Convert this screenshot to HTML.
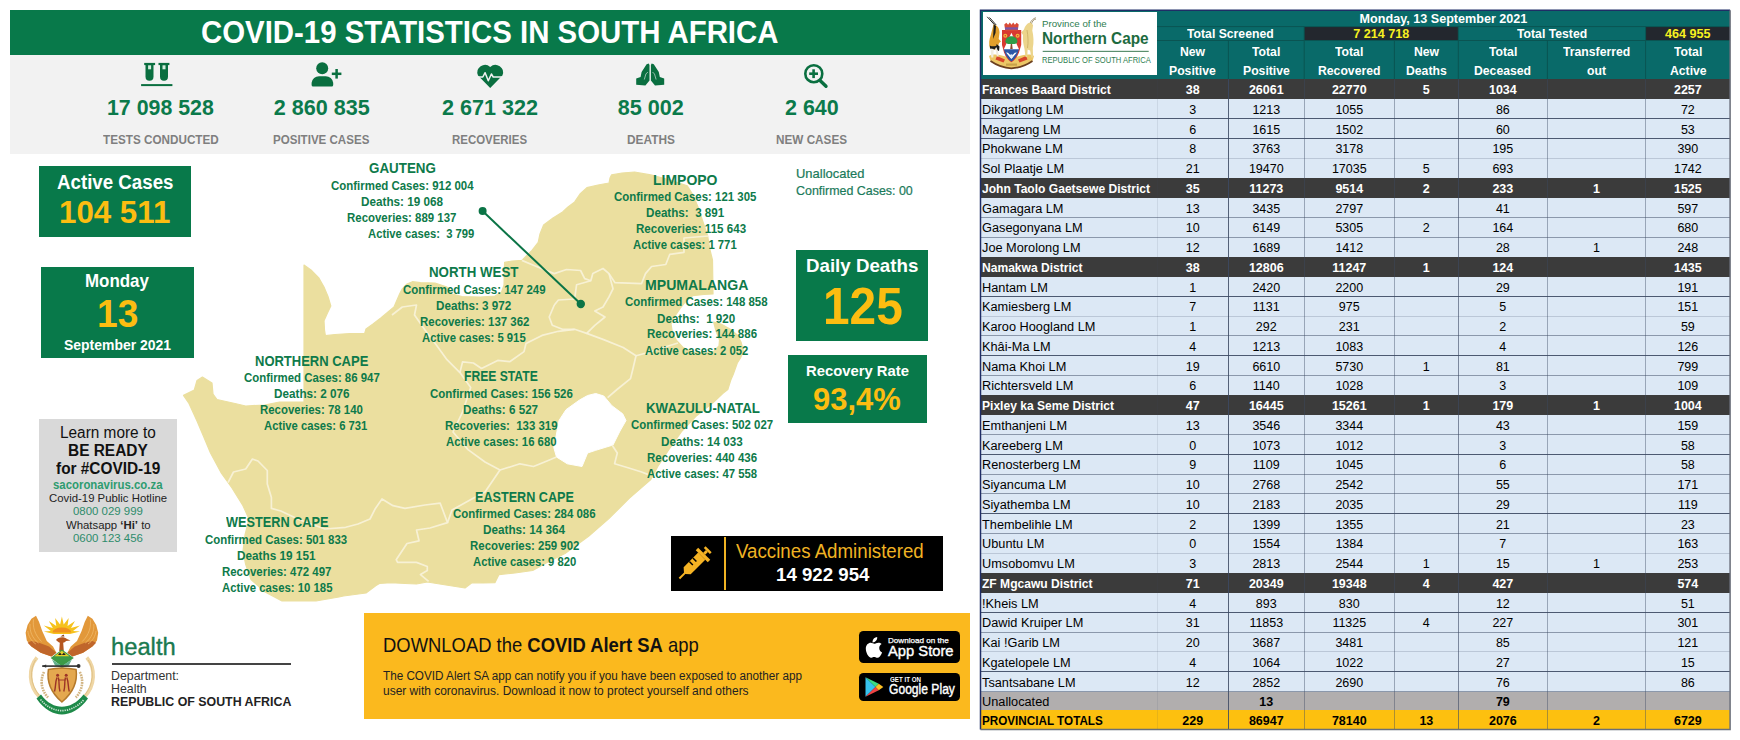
<!DOCTYPE html>
<html><head><meta charset="utf-8"><title>COVID-19 Statistics in South Africa</title>
<style>
html,body{margin:0;padding:0;background:#fff;}
body{width:1740px;height:740px;position:relative;overflow:hidden;font-family:"Liberation Sans",sans-serif;}
.t{position:absolute;white-space:pre;line-height:1;transform-origin:0 0;}
.b{position:absolute;}
svg{position:absolute;left:0;top:0;}
</style></head><body>
<div class="b" style="left:10px;top:10px;width:960.3px;height:45px;background:#08794a;"></div>
<div class="b" style="left:10px;top:55px;width:960.3px;height:98.7px;background:#f2f2f2;"></div>
<div class="b" style="left:38.9px;top:166.2px;width:152.1px;height:71px;background:#08794a;"></div>
<div class="b" style="left:41.2px;top:267.3px;width:152.4px;height:91.2px;background:#08794a;"></div>
<div class="b" style="left:795.8px;top:250.3px;width:132.2px;height:90.3px;background:#08794a;"></div>
<div class="b" style="left:788.4px;top:355.1px;width:138.5px;height:67.6px;background:#08794a;"></div>
<div class="b" style="left:39px;top:419px;width:138.2px;height:133.4px;background:#d9d9d9;"></div>
<div class="b" style="left:671.2px;top:536.2px;width:271.9px;height:54.7px;background:#000;"></div>
<div class="b" style="left:724.4px;top:537.4px;width:1.8px;height:52.3px;background:#f0b323;"></div>
<div class="b" style="left:364px;top:612.7px;width:605.8px;height:106.8px;background:#fbb91e;"></div>
<div class="b" style="left:859.3px;top:630.6px;width:100.7px;height:32.4px;background:#000;border-radius:4.5px;"></div>
<div class="b" style="left:859.3px;top:673.1px;width:100.7px;height:28.3px;background:#000;border-radius:4.5px;"></div>
<div class="b" style="left:111.6px;top:662.8px;width:179.3px;height:2px;background:#444;"></div>
<svg width="980" height="740" viewBox="0 0 980 740">
<path d="M304 265 L311 270 L318.6 277.6 L324 287 L328 296.5 L330.8 306 L327 314 L324 320.8 L324.5 330 L325.4 335.7 L335 334.5 L350 333.5 L364.6 333.6 L366 329 L373 324 L380.8 318 L388 312 L394 307 L397 300 L399.7 293.8 L402.3 288.8 L407 284 L412.4 281.7 L420.5 282.7 L435 283 L447 287 L452 294 L462 296.5 L480 297 L495 296 L501.6 292 L504 285 L504.6 262.4 L512 261 L521.9 260.4 L532 250.3 L538.2 242.4 L540 234 L543.6 224.9 L553 218 L562.6 212 L568 207 L574.7 201.9 L580 194 L586.9 187.7 L598 185 L609 183 L610 178 L611.6 174.9 L622 173 L634.6 172 L650.8 174.9 L670 180 L687.3 185.7 L693 195 L698 207 L703 222 L707.6 235.7 L710 250 L712.5 260 L713 294 L704 294.5 L692.7 295.7 L686 301 L680.5 307.8 L675 316 L671 324 L672.5 333 L676.5 340.3 L683 347.5 L693 352 L705 353 L714 351 L719 346 L719.5 340 L716 331 L713.6 322 L721 324 L730 329 L737.3 335 L741 342 L743.4 351 L740.5 358 L737.3 363 L733.2 374.6 L730.8 380 L727.8 389.5 L722.7 393.5 L714.3 401.6 L695.7 416.5 L682 431 L668.6 450 L657.8 466.5 L650.8 479.5 L629.2 498.4 L608.9 518.6 L588.6 536.2 L565 553.5 L548 562 L532.7 570.5 L515 573 L499 574.6 L494.9 582.7 L483 583 L471.9 582.7 L465 588 L446 585 L427.3 582 L416.5 584 L405 583.5 L390.8 582.7 L379.5 583.5 L376 585.4 L366 593 L343.5 596 L339 597 L316 601 L282 601 L264.6 591.6 L251 579.5 L245.7 564.6 L243 551 L245 535 L249 519 L243 505.7 L232 488 L221.4 473.2 L210.5 453 L203.8 437 L197 421 L189 403.5 L183.5 395.4 L194.3 390 L197 380.5 L202.4 377 L212 383 L213 394 L217 399.5 L235 403.5 L245.7 406 L264.6 405 L279.5 402 L304 402Z" fill="#ebdf9f" stroke="#ebdf9f" stroke-width="1.2" stroke-linejoin="round"/>
<path d="M595.7 393.5 L603.8 396 L611.9 405.7 L622.7 413.8 L626 420.5 L620 431 L613 445 L595.7 450.3 L587.6 453 L582 466.5 L567.3 463.8 L556.5 457 L553.8 447.6 L556.5 434 L559 420.5 L566 409.7 L579.5 400 L587.6 395.5Z" fill="#fff" stroke="#fff" stroke-width="1" stroke-linejoin="round"/>
<path d="M228 482.7 L233.5 472 L245.7 469 L252.4 459 L258 461 L267.3 470.5 L267.3 484 L271.4 497.6 L271.4 508.4 L280.8 511 L300 520 L325 529 L345.7 527.3 L358 524 L370 519 L375.4 508.4 L382 499 L393 505.7 L405 508.4 L425 505 L440.2 503.2 L447.5 522.6 L430 528 L416.5 530 L419 540.8 L407 543.5 L396.2 559.7 L397.6 562.4 L416.5 562.4 L427.3 566.5 L427.3 570.5 L420.5 574.6 L428.6 581.4" fill="none" stroke="#f8f3da" stroke-width="1.7" stroke-linejoin="round" opacity="0.9"/>
<path d="M554.3 305 L558.4 300 L574.6 299 L576.6 284.7 L590.8 280.7 L592.8 273.6 L603 268.5 L609 273.6 L613 288.8 L609 296.9 L603 307 L594.8 311 L605 317 L594.8 325.3 L586.7 333.4 L574.6 329.3 L562.4 329.3 L552.3 325.3 L549.2 317 L554.3 305" fill="none" stroke="#f8f3da" stroke-width="1.7" stroke-linejoin="round" opacity="0.9"/>
<path d="M521.9 260.4 L534 265.5 L554.3 273.6 L566.5 269.5 L580.6 270.5 L584.7 278.6 L590.8 280.7" fill="none" stroke="#f8f3da" stroke-width="1.7" stroke-linejoin="round" opacity="0.9"/>
<path d="M609 273.6 L615 282.7 L641.5 283.7 L645.5 273.6 L651.6 266.5 L665.8 264.5 L669.8 254.3 L684 252.3 L684 238 L708.3 236" fill="none" stroke="#f8f3da" stroke-width="1.7" stroke-linejoin="round" opacity="0.9"/>
<path d="M574.6 329.3 L558.4 331.3 L542 335.4 L526 343.5 L524 351.6 L509.7 361.7 L497.7 360.4 L481.5 368.5 L473.4 363 L462.6 361.8 L459.9 372.6" fill="none" stroke="#f8f3da" stroke-width="1.7" stroke-linejoin="round" opacity="0.9"/>
<path d="M392 315 L402.3 307 L416.5 305 L414.5 315 L425 330 L436.7 345.5 L447 359.7 L459.9 372.6 L470.7 387.4 L462.6 411.8 L453 432 L468 449.6 L485 462 L500 470 L520 463.8 L533.5 466.5 L547 461 L556.5 457" fill="none" stroke="#f8f3da" stroke-width="1.7" stroke-linejoin="round" opacity="0.9"/>
<path d="M586.7 333.4 L603 339.4 L623.2 347.5 L636 355.7 L633.2 367.8 L630.5 378.6 L617 389.5 L607.6 397.6" fill="none" stroke="#f8f3da" stroke-width="1.7" stroke-linejoin="round" opacity="0.9"/>
<path d="M636 355.7 L650 352 L665 347 L678 343" fill="none" stroke="#f8f3da" stroke-width="1.7" stroke-linejoin="round" opacity="0.9"/>
<path d="M612 445 L617.3 453 L614.6 463.8 L628 467.8 L641.6 472 L648.4 474.6" fill="none" stroke="#f8f3da" stroke-width="1.7" stroke-linejoin="round" opacity="0.9"/>
<path d="M447.5 522.6 L452 510 L470 500 L485 492 L500 470" fill="none" stroke="#f8f3da" stroke-width="1.7" stroke-linejoin="round" opacity="0.9"/>
<line x1="482.6" y1="211.1" x2="580.8" y2="304" stroke="#0b7446" stroke-width="2"/>
<circle cx="482.6" cy="211.1" r="4" fill="#0b7446"/><circle cx="580.8" cy="304" r="4.2" fill="#0b7446"/>
</svg>
<svg width="980" height="740" viewBox="0 0 980 740">
<g fill="#0a6f40"><rect x="141.1" y="84.1" width="31.3" height="2"/><rect x="144.2" y="62.9" width="10.9" height="2.2"/><rect x="158.5" y="62.9" width="10.9" height="2.2"/><path d="M145.5 64.5h8v12.300a4 4 0 0 1-8 0z"/><path d="M160 64.5h8v12.300a4 4 0 0 1-8 0z"/></g><rect x="148.1" y="65.3" width="3" height="4" fill="#d5efdf"/><rect x="162.5" y="65.3" width="3" height="4" fill="#d5efdf"/>
<g fill="#0a6f40"><circle cx="322.2" cy="68.3" r="6"/><path d="M311.6 85v-2.200a7.500 7.500 0 0 1 7.500-6.600h6.600a7.500 7.500 0 0 1 7.500 6.600v2.200a1.600 1.600 0 0 1-1.600 1.600h-18.400a1.600 1.600 0 0 1-1.600-1.600z"/><rect x="331.8" y="72.55" width="9.6" height="2.5"/><rect x="335.35" y="69" width="2.5" height="9.6"/></g>
<path fill="#0a6f40" d="M490.200 88L478 75.500A7.600 7.600 0 0 1 490.200 67A7.600 7.600 0 0 1 502.400 75.500Z"/><path d="M477 77h5.800l2.300-4.300 3.200 8 3.100-6.700 1.800 3h10.500" fill="none" stroke="#f2f2f2" stroke-width="1.500" stroke-linejoin="round"/>
<g fill="#0a6f40"><path d="M648.7 63.500L646.600 64.200 641.600 72 640.600 77 636.200 78.600 636.200 84.700 645.400 85.600 649.500 80.500 649.500 65z"/><path d="M651.7 63.500L653.800 64.200 658.800 72 659.800 77 664.200 78.600 664.200 84.700 655 85.600 650.900 80.500 650.900 65z"/></g><path d="M644.300 79.500l1.600-5.500 2-2M656.100 79.500l-1.600-5.500-2-2" stroke="#f2f2f2" stroke-width=".8" fill="none" opacity=".75"/>
<circle cx="813.8" cy="73.7" r="8.500" fill="none" stroke="#0a6f40" stroke-width="2.600"/><path d="M820 80.500l6 5.800" stroke="#0a6f40" stroke-width="3.400" stroke-linecap="round"/><g fill="#0a6f40"><rect x="809.2" y="72.4" width="8.8" height="2.600"/><rect x="812.3" y="69.3" width="2.600" height="8.800"/></g>
<g transform="translate(679.4 578.5) rotate(-45)"><g fill="#f5b324"><rect x="0" y="-1" width="8" height="2"/><path d="M7.500-1L11-5h20.600v10H11L7.500 1z"/><rect x="31.600" y="-8.500" width="3.500" height="17"/><rect x="35" y="-1.400" width="4" height="2.800"/><rect x="38.800" y="-4.300" width="2.500" height="8.600"/></g><g fill="#000"><rect x="18.300" y="-5" width="1.500" height="5"/><rect x="23.300" y="-5" width="1.500" height="5"/></g></g>
</svg>
<div class="b" style="left:980.5px;top:10.2px;width:749.6px;height:68.9px;background:#096a69;"></div>
<div class="b" style="left:982.6px;top:11.8px;width:174.2px;height:63.1px;background:#fff;"></div>
<div class="b" style="left:1304.2px;top:26.7px;width:154.1px;height:14px;background:#23272e;"></div>
<div class="b" style="left:1645.6px;top:26.7px;width:84.5px;height:14px;background:#23272e;"></div>
<div class="b" style="left:980.5px;top:79.1px;width:749.6px;height:19.75px;background:#3b3b3b;"></div>
<div class="b" style="left:980.5px;top:98.85px;width:749.6px;height:19.75px;background:#dce8f5;"></div>
<div class="b" style="left:980.5px;top:118.61px;width:749.6px;height:19.76px;background:#dce8f5;"></div>
<div class="b" style="left:980.5px;top:138.37px;width:749.6px;height:19.75px;background:#dce8f5;"></div>
<div class="b" style="left:980.5px;top:158.12px;width:749.6px;height:19.75px;background:#dce8f5;"></div>
<div class="b" style="left:980.5px;top:177.88px;width:749.6px;height:19.75px;background:#3b3b3b;"></div>
<div class="b" style="left:980.5px;top:197.63px;width:749.6px;height:19.75px;background:#dce8f5;"></div>
<div class="b" style="left:980.5px;top:217.38px;width:749.6px;height:19.75px;background:#dce8f5;"></div>
<div class="b" style="left:980.5px;top:237.14px;width:749.6px;height:19.75px;background:#dce8f5;"></div>
<div class="b" style="left:980.5px;top:256.89px;width:749.6px;height:19.75px;background:#3b3b3b;"></div>
<div class="b" style="left:980.5px;top:276.65px;width:749.6px;height:19.75px;background:#dce8f5;"></div>
<div class="b" style="left:980.5px;top:296.4px;width:749.6px;height:19.75px;background:#dce8f5;"></div>
<div class="b" style="left:980.5px;top:316.16px;width:749.6px;height:19.75px;background:#dce8f5;"></div>
<div class="b" style="left:980.5px;top:335.91px;width:749.6px;height:19.75px;background:#dce8f5;"></div>
<div class="b" style="left:980.5px;top:355.67px;width:749.6px;height:19.75px;background:#dce8f5;"></div>
<div class="b" style="left:980.5px;top:375.42px;width:749.6px;height:19.75px;background:#dce8f5;"></div>
<div class="b" style="left:980.5px;top:395.18px;width:749.6px;height:19.75px;background:#3b3b3b;"></div>
<div class="b" style="left:980.5px;top:414.93px;width:749.6px;height:19.75px;background:#dce8f5;"></div>
<div class="b" style="left:980.5px;top:434.69px;width:749.6px;height:19.75px;background:#dce8f5;"></div>
<div class="b" style="left:980.5px;top:454.44px;width:749.6px;height:19.75px;background:#dce8f5;"></div>
<div class="b" style="left:980.5px;top:474.2px;width:749.6px;height:19.75px;background:#dce8f5;"></div>
<div class="b" style="left:980.5px;top:493.95px;width:749.6px;height:19.75px;background:#dce8f5;"></div>
<div class="b" style="left:980.5px;top:513.71px;width:749.6px;height:19.75px;background:#dce8f5;"></div>
<div class="b" style="left:980.5px;top:533.46px;width:749.6px;height:19.76px;background:#dce8f5;"></div>
<div class="b" style="left:980.5px;top:553.22px;width:749.6px;height:19.75px;background:#dce8f5;"></div>
<div class="b" style="left:980.5px;top:572.98px;width:749.6px;height:19.75px;background:#3b3b3b;"></div>
<div class="b" style="left:980.5px;top:592.73px;width:749.6px;height:19.75px;background:#dce8f5;"></div>
<div class="b" style="left:980.5px;top:612.49px;width:749.6px;height:19.75px;background:#dce8f5;"></div>
<div class="b" style="left:980.5px;top:632.24px;width:749.6px;height:19.75px;background:#dce8f5;"></div>
<div class="b" style="left:980.5px;top:652px;width:749.6px;height:19.75px;background:#dce8f5;"></div>
<div class="b" style="left:980.5px;top:671.75px;width:749.6px;height:19.75px;background:#dce8f5;"></div>
<div class="b" style="left:980.5px;top:691.5px;width:749.6px;height:18.1px;background:#b1aeae;"></div>
<div class="b" style="left:980.5px;top:709.6px;width:749.6px;height:20px;background:#fdc00f;"></div>
<svg width="1740" height="740" viewBox="0 0 1740 740">
<path d="M1157 26.6H1730.1 M1157 40.500H1730.1" stroke="#0a5452" stroke-width="1"/>
<path d="M1228.4 40.5V79.1" stroke="#0a5452" stroke-width="1"/>
<path d="M1304.2 26.6V79.1" stroke="#0a5452" stroke-width="1"/>
<path d="M1394.4 40.5V79.1" stroke="#0a5452" stroke-width="1"/>
<path d="M1458.3 26.6V79.1" stroke="#0a5452" stroke-width="1"/>
<path d="M1547.4 40.5V79.1" stroke="#0a5452" stroke-width="1"/>
<path d="M1645.6 26.6V79.1" stroke="#0a5452" stroke-width="1"/>
<path d="M1157.5 79.1V729.6" stroke="#3d4a63" stroke-width="1" opacity="0.1"/>
<path d="M1228.5 79.1V729.6" stroke="#3d4a63" stroke-width="1" opacity="0.85"/>
<path d="M1304.5 79.1V729.6" stroke="#3d4a63" stroke-width="1" opacity="0.42"/>
<path d="M1394.5 79.1V729.6" stroke="#3d4a63" stroke-width="1" opacity="0.42"/>
<path d="M1458.5 79.1V729.6" stroke="#3d4a63" stroke-width="1" opacity="0.6"/>
<path d="M1547.5 79.1V729.6" stroke="#3d4a63" stroke-width="1" opacity="0.42"/>
<path d="M1645.5 79.1V729.6" stroke="#3d4a63" stroke-width="1" opacity="0.42"/>
<path d="M980.5 118.5H1730.1" stroke="#3d4a63" stroke-width="1" opacity="0.9"/>
<path d="M980.5 138.5H1730.1" stroke="#3d4a63" stroke-width="1" opacity="0.9"/>
<path d="M980.5 158.5H1730.1" stroke="#3d4a63" stroke-width="1" opacity="0.2"/>
<path d="M980.5 217.5H1730.1" stroke="#3d4a63" stroke-width="1" opacity="0.5"/>
<path d="M980.5 237.5H1730.1" stroke="#3d4a63" stroke-width="1" opacity="0.5"/>
<path d="M980.5 296.5H1730.1" stroke="#3d4a63" stroke-width="1" opacity="0.9"/>
<path d="M980.5 316.5H1730.1" stroke="#3d4a63" stroke-width="1" opacity="0.2"/>
<path d="M980.5 335.5H1730.1" stroke="#3d4a63" stroke-width="1" opacity="0.5"/>
<path d="M980.5 355.5H1730.1" stroke="#3d4a63" stroke-width="1" opacity="0.9"/>
<path d="M980.5 375.5H1730.1" stroke="#3d4a63" stroke-width="1" opacity="0.5"/>
<path d="M980.5 434.5H1730.1" stroke="#3d4a63" stroke-width="1" opacity="0.5"/>
<path d="M980.5 454.5H1730.1" stroke="#3d4a63" stroke-width="1" opacity="0.9"/>
<path d="M980.5 474.5H1730.1" stroke="#3d4a63" stroke-width="1" opacity="0.5"/>
<path d="M980.5 493.5H1730.1" stroke="#3d4a63" stroke-width="1" opacity="0.5"/>
<path d="M980.5 513.5H1730.1" stroke="#3d4a63" stroke-width="1" opacity="0.9"/>
<path d="M980.5 533.5H1730.1" stroke="#3d4a63" stroke-width="1" opacity="0.5"/>
<path d="M980.5 553.5H1730.1" stroke="#3d4a63" stroke-width="1" opacity="0.2"/>
<path d="M980.5 612.5H1730.1" stroke="#3d4a63" stroke-width="1" opacity="0.9"/>
<path d="M980.5 632.5H1730.1" stroke="#3d4a63" stroke-width="1" opacity="0.5"/>
<path d="M980.5 651.5H1730.1" stroke="#3d4a63" stroke-width="1" opacity="0.2"/>
<path d="M980.5 671.5H1730.1" stroke="#3d4a63" stroke-width="1" opacity="0.9"/>
<path d="M980.5 691.5H1730.1" stroke="#3d4a63" stroke-width="1" opacity="0.5"/>
<path d="M980.5 729.600V10.200H1730.1" fill="none" stroke="#1f2d66" stroke-width="1.500"/>
<path d="M1730.1 10.200V729.600H980.5" fill="none" stroke="#6a6f7a" stroke-width="1.500"/>
</svg>
<svg width="1740" height="740" viewBox="0 0 1740 740">
<rect x="1042.7" y="50.800" width="106" height="1.200" fill="#5b8f6e"/>
<g><path d="M989 56C994 52.500 1003 55.500 1011.400 58.500C1020 55.500 1029 52.500 1034 56L1032.500 61C1026 65.500 1018 68 1011.400 68.300C1005 68 997 65.500 990.500 61Z" fill="#ecc766"/><path d="M990.500 61C997 65.500 1005 68 1011.400 68.300C1018 68 1026 65.500 1032.500 61" stroke="#6b3f1f" stroke-width="1.700" fill="none"/><path d="M997 56l8 3.500-1.500 3-8-3z M1026 56l-8 3.500 1.500 3 8-3z" fill="#d8452b"/><path d="M1006 63.500h11v2.200h-11z" fill="#c9a24a"/><path d="M995.200 25.500L987.200 16.800M996.200 25L989.500 17.500" stroke="#2a2a2a" stroke-width="1" fill="none"/><path d="M993.500 24.500c3.500.3 6 3.500 6 8l-.8 6.500 2.300 2.500-2 1.500-1.500 5.500-3.500 1.500-4-1.500c-1.500-5-.8-9 .8-13.500z" fill="#e3a02c"/><path d="M993.800 24.500l2.200 1.500-.5 7-2.500 6z" fill="#1c1c1c"/><path d="M989.800 45.500c2.500 1.300 5.800 1.200 8-.8l-.8 3.600c-2 1.400-4.800 1.500-6.800.4z" fill="#1c1c1c"/><path d="M990.500 48.500l.8 9h2l.4-8.500z M995.300 48l1.600 8.500h1.800l-1.300-9.500z" fill="#f1ece0"/><path d="M996.500 44l3 2.500-.5 4.500c-1.500-.5-2.500-2-2.500-7z" fill="#1c1c1c"/><path d="M1030 23.500c1-3 3.500-5 5.800-5.800M1031.500 24c.5-2.500 2-4.500 4.500-5" stroke="#9a8a66" stroke-width=".9" fill="none"/><path d="M1030.500 22.500c-3.500.5-5.500 3.500-6.500 7l-2.800 3 1.800 2.500c-.5 5 .5 10 1.500 14l1 8h1.800l.3-7.500 2.500 1 1.200 7h1.800l-.3-9.500c1.200-5.500.8-12-.5-17.500l.8-5.500z" fill="#ecd58c"/><path d="M1027 30c1 6 1.500 12 .5 18" stroke="#c9ad62" stroke-width=".8" fill="none"/><path d="M1002 30h19.200v15l-2.200 7.500c-2 5-4.500 8-7.600 9.700c-3-1.700-5.500-4.700-7.400-9.700l-2-7.500z" fill="#d93a31"/><path d="M1003.800 49l1 3.500c1.700 4.500 3.900 7.300 6.600 8.900c2.700-1.600 4.900-4.400 6.600-8.900l1-3.500z" fill="#2b57a6"/><path d="M1011.400 32.700l7.600 16.500h-15.200z" fill="#fff"/><path d="M1011.400 36.300c3.500 0 6 2.500 6 5.200 0 1.500-1.500 2.500-3 2.500h-6c-1.500 0-3-1-3-2.500 0-2.700 2.500-5.200 6-5.200z" fill="#2f9d48"/><path d="M1010.800 44h1.300l.6 5h-2.500z" fill="#8a4a2a"/><path d="M1006 52.500l5.400 6.500 5.400-6.500-2 .3-3.400 3.500-3.400-3.500z" fill="#fff"/><circle cx="1011.400" cy="56" r="1.700" fill="#dfe9f7"/><circle cx="1005.300" cy="35.700" r="2" fill="#f0b93a"/><circle cx="1017.600" cy="35.700" r="2" fill="#f0b93a"/><circle cx="1005.300" cy="35.700" r=".8" fill="#d93a31"/><circle cx="1017.600" cy="35.700" r=".8" fill="#d93a31"/><path d="M1004.300 24.500l2-1.800 1.800 2 1.700-2.200 1.700 2.200 1.700-2.200 1.700 2.200 1.800-2 2 1.800-1 6.400h-12.400z" fill="#d94a36"/><rect x="1005" y="27.300" width="13" height="2.300" fill="#7a55a8"/></g>
<g><path d="M36 615.700L31.400 618.800 27.600 624.900 25.600 632.700 26.800 640.400 31.400 646.500 40.700 652.700 51.400 656.500 56.400 652.700 53 646.500 46.800 641.100 42.200 631.100 39.100 621.900Z" fill="#e2983a"/><path d="M27.600 642.700L31.400 646.500 40.700 652.700 51.400 656.500 56.400 652.700 49.100 646.500 39.100 642.700 31.400 641.100Z" fill="#c0662b"/><path d="M33.500 619.500c-1 7 1 15 8 22M30 624c-.5 7 2 14 8.500 19M27.800 631c.5 5 3.500 10 8 13" stroke="#f0b968" stroke-width=".8" fill="none"/><path d="M37 657.500C28 668 28 686 40 697.500" stroke="#efd6a4" stroke-width="3.600" fill="none"/><path d="M35.500 660C29.500 670 30 684 39 695" stroke="#d9b778" stroke-width=".7" fill="none"/><path d="M44 672C40 680 41 690 48 697.500" stroke="#d2b583" stroke-width="2.600" stroke-dasharray="1.700 .9" fill="none"/><g transform="translate(123.800 0) scale(-1 1)"><path d="M36 615.700L31.400 618.800 27.600 624.900 25.600 632.700 26.800 640.400 31.400 646.500 40.700 652.700 51.400 656.500 56.400 652.700 53 646.500 46.800 641.100 42.200 631.100 39.100 621.900Z" fill="#e2983a"/><path d="M27.600 642.700L31.400 646.500 40.700 652.700 51.400 656.500 56.400 652.700 49.100 646.500 39.100 642.700 31.400 641.100Z" fill="#c0662b"/><path d="M33.500 619.500c-1 7 1 15 8 22M30 624c-.5 7 2 14 8.500 19M27.800 631c.5 5 3.500 10 8 13" stroke="#f0b968" stroke-width=".8" fill="none"/><path d="M37 657.500C28 668 28 686 40 697.500" stroke="#efd6a4" stroke-width="3.600" fill="none"/><path d="M35.500 660C29.500 670 30 684 39 695" stroke="#d9b778" stroke-width=".7" fill="none"/><path d="M44 672C40 680 41 690 48 697.500" stroke="#d2b583" stroke-width="2.600" stroke-dasharray="1.700 .9" fill="none"/></g><path d="M61.900 616.500l1.800 8 5-6.500-1.200 8 7.500-5-4 7 9-2.500-7 5.500 7 .5-10 2.500h-16.200l-10-2.500 7-.5-7-5.500 9 2.500-4-7 7.500 5-1.200-8 5 6.500z" fill="#f6c21c"/><path d="M52.500 632.500a9.400 5 0 0 1 18.800 0z" fill="#f0901f"/><path d="M56 640c2-3 8-3.600 11-1l3.500 1.400-4.500.6c-.8 1-1.800 1.500-2.800 1.700l.6 8.300h-4.600l.6-8.300c-1.500-.5-2.700-1.500-3.800-2.700z" fill="#b5561f"/><path d="M60.500 636.500l3-2 1 2z" fill="#8a3a16"/><path d="M61.900 649.600L73.800 658 61.900 666.600 50.700 658Z" fill="#3c9a47"/><path d="M61.900 650.800L69.500 656.300H54.300Z" fill="#e6cf2a"/><path d="M58 655l2-2.500 1.900 2.500 1.900-2.500 2 2.500z" fill="#222"/><path d="M52 659.500l9.900 6.500 9.900-6.500-3 6-6.900 2.500-6.900-2.500z" fill="#62b08c"/><rect x="42.200" y="665.300" width="36" height="1.600" fill="#2f2f2f"/><circle cx="78.600" cy="666" r="1.900" fill="#2f2f2f"/><path d="M42.200 666.100l4-1.600v3.200z" fill="#2f2f2f"/><path d="M48.400 669.500Q61.900 666.300 76.100 669.500Q78.600 688 61.900 702Q45.600 688 48.400 669.500Z" fill="#e4a84f" stroke="#b57a2c" stroke-width="1.500"/><path d="M57 677.500c-2 5-1 9-2.500 14M58.300 677.500c1.500 5 0 9 1.700 14M66.800 677.500c2 5 1 9 2.500 14M65.500 677.500c-1.500 5 0 9-1.700 14" stroke="#9c3327" stroke-width="1.400" fill="none"/><circle cx="57.600" cy="675.300" r="1.500" fill="#9c3327"/><circle cx="66.200" cy="675.300" r="1.500" fill="#9c3327"/><path d="M58.500 680h7" stroke="#9c3327" stroke-width=".9"/><path d="M36.500 698.500C44 710 54 714.500 61.900 714.500C70 714.500 80 710 88 698.500L83.500 694.500C77 703 69 706.800 61.900 706.800C55 706.800 47 703 41 694.500Z" fill="#1e8a49"/><path d="M40.500 699.500C47 707.500 55 710.600 61.900 710.600C69 710.600 77 707.500 84 699.500" stroke="#e6f2e9" stroke-width="1.700" stroke-dasharray="1.300 1" fill="none" opacity=".85"/></g>
<g transform="translate(866.600 636.900) scale(.98)" fill="#fff"><path d="M10.800 0c.2 1.700-.5 3.100-1.300 4-.9 1-2.200 1.700-3.400 1.600-.2-1.500.5-3 1.300-3.900C8.300.7 9.700.1 10.800 0z"/><path d="M15.300 7.300c-1.500.9-2.400 2.300-2.400 4.100 0 2.100 1.200 3.700 2.900 4.400-.7 2.200-2.700 5.400-4.700 5.400-1.300 0-2-.8-3.400-.8-1.500 0-2.300.8-3.500.8C2.100 21.200-.8 16.400-.8 12.200c0-3.900 2.500-6.200 5.100-6.200 1.500 0 2.700 1 3.600 1 .9 0 2.400-1.100 4.100-1.100 1.300 0 2.600.5 3.300 1.400z"/></g>
<path d="M865.500 677.200v19.600l10-9.800z" fill="#36c3ee"/><path d="M865.500 677.200l10 9.800 3.300-3.200z" fill="#3ddc84"/><path d="M865.500 696.800l10-9.800 3.300 3.200z" fill="#ef4444"/><path d="M878.800 683.800l4.500 3.200-4.500 3.200-3.300-3.200z" fill="#fbbf24"/>
</svg>
<span class="t" style="left:201.46px;top:16.98px;font-size:30.5px;color:#fff;font-weight:700;transform:scaleX(0.9636);">COVID-19 STATISTICS IN SOUTH AFRICA</span>
<span class="t" style="left:107.43px;top:97.01px;font-size:21.6px;color:#0b7a4b;font-weight:700;transform:scaleX(0.9886);">17 098 528</span>
<span class="t" style="left:273.63px;top:97.01px;font-size:21.6px;color:#0b7a4b;font-weight:700;">2 860 835</span>
<span class="t" style="left:442.03px;top:97.01px;font-size:21.6px;color:#0b7a4b;font-weight:700;">2 671 322</span>
<span class="t" style="left:617.73px;top:97.01px;font-size:21.6px;color:#0b7a4b;font-weight:700;">85 002</span>
<span class="t" style="left:785.13px;top:97.01px;font-size:21.6px;color:#0b7a4b;font-weight:700;transform:scaleX(0.9945);">2 640</span>
<span class="t" style="left:102.87px;top:132.99px;font-size:13px;color:#7f7f7f;font-weight:700;transform:scaleX(0.9004);">TESTS CONDUCTED</span>
<span class="t" style="left:273.47px;top:132.99px;font-size:13px;color:#7f7f7f;font-weight:700;transform:scaleX(0.8891);">POSITIVE CASES</span>
<span class="t" style="left:452.47px;top:132.99px;font-size:13px;color:#7f7f7f;font-weight:700;transform:scaleX(0.8804);">RECOVERIES</span>
<span class="t" style="left:626.87px;top:132.99px;font-size:13px;color:#7f7f7f;font-weight:700;transform:scaleX(0.9137);">DEATHS</span>
<span class="t" style="left:776.47px;top:132.99px;font-size:13px;color:#7f7f7f;font-weight:700;transform:scaleX(0.9024);">NEW CASES</span>
<span class="t" style="left:56.71px;top:172.89px;font-size:19.5px;color:#fff;font-weight:700;transform:scaleX(0.9593);">Active Cases</span>
<span class="t" style="left:58.94px;top:197.35px;font-size:31px;color:#fcbd11;font-weight:700;transform:scaleX(1.0086);">104 511</span>
<span class="t" style="left:85.48px;top:273.43px;font-size:17.8px;color:#fff;font-weight:700;transform:scaleX(0.9517);">Monday</span>
<span class="t" style="left:97.16px;top:295.13px;font-size:38px;color:#fcbd11;font-weight:700;transform:scaleX(0.9763);">13</span>
<span class="t" style="left:63.61px;top:337.64px;font-size:14.6px;color:#fff;font-weight:700;transform:scaleX(0.9556);">September 2021</span>
<span class="t" style="left:805.85px;top:256.84px;font-size:18.5px;color:#fff;font-weight:700;transform:scaleX(1.0113);">Daily Deaths</span>
<span class="t" style="left:822.81px;top:280.59px;font-size:51.5px;color:#fcbd11;font-weight:700;transform:scaleX(0.9283);">125</span>
<span class="t" style="left:806.01px;top:364.04px;font-size:14.6px;color:#fff;font-weight:700;transform:scaleX(1.0155);">Recovery Rate</span>
<span class="t" style="left:813.4px;top:383.11px;font-size:32px;color:#fcbd11;font-weight:700;transform:scaleX(0.9676);">93,4%</span>
<span class="t" style="left:736.41px;top:542.27px;font-size:19.4px;color:#f0b323;transform:scaleX(0.9642);">Vaccines Administered</span>
<span class="t" style="left:776.45px;top:565.72px;font-size:18.4px;color:#fff;font-weight:700;transform:scaleX(1.0146);">14 922 954</span>
<span class="t" style="left:59.97px;top:424.79px;font-size:15.6px;color:#111;transform:scaleX(0.9863);">Learn more to</span>
<span class="t" style="left:67.97px;top:442.59px;font-size:15.6px;color:#111;font-weight:700;transform:scaleX(0.9897);">BE READY</span>
<span class="t" style="left:55.67px;top:461.09px;font-size:15.6px;color:#111;font-weight:700;transform:scaleX(0.9872);">for #COVID-19</span>
<span class="t" style="left:53.01px;top:479.34px;font-size:12px;color:#2e9c70;font-weight:700;transform:scaleX(0.9487);">sacoronavirus.co.za</span>
<span class="t" style="left:48.72px;top:492.91px;font-size:11.8px;color:#222;transform:scaleX(0.9627);">Covid-19 Public Hotline</span>
<span class="t" style="left:73.12px;top:506.31px;font-size:11.8px;color:#2e8c6c;transform:scaleX(0.9693);">0800 029 999</span>
<span class="t" style="left:65.52px;top:519.91px;font-size:11.8px;color:#222;transform:scaleX(0.9632);">Whatsapp <b>‘Hi’</b> to</span>
<span class="t" style="left:73.12px;top:533.31px;font-size:11.8px;color:#2e8c6c;transform:scaleX(0.9693);">0600 123 456</span>
<span class="t" style="left:110.65px;top:636.4px;font-size:23.5px;color:#1a7a50;transform:scaleX(1.0105);-webkit-text-stroke:.35px #1a7a50;">health</span>
<span class="t" style="left:111.07px;top:668.59px;font-size:13px;color:#333;transform:scaleX(0.9512);">Department:</span>
<span class="t" style="left:111.07px;top:682.09px;font-size:13px;color:#333;transform:scaleX(0.9514);">Health</span>
<span class="t" style="left:111.09px;top:695.92px;font-size:12.5px;color:#222;font-weight:700;transform:scaleX(0.9898);">REPUBLIC OF SOUTH AFRICA</span>
<span class="t" style="left:383.16px;top:635.49px;font-size:20.8px;color:#111;transform:scaleX(0.8859);">DOWNLOAD the <b>COVID Alert SA</b> app</span>
<span class="t" style="left:383.49px;top:670.02px;font-size:12.5px;color:#222;transform:scaleX(0.9363);">The COVID Alert SA app can notify you if you have been exposed to another app</span>
<span class="t" style="left:383.49px;top:685.02px;font-size:12.5px;color:#222;transform:scaleX(0.9567);">user with coronavirus. Download it now to protect yourself and others</span>
<span class="t" style="left:888.28px;top:637.03px;font-size:8px;color:#fff;transform:scaleX(1.0117);-webkit-text-stroke:.25px #fff;">Download on the</span>
<span class="t" style="left:887.98px;top:643.46px;font-size:15.4px;color:#fff;transform:scaleX(0.9576);-webkit-text-stroke:.4px #fff;">App Store</span>
<span class="t" style="left:889.54px;top:677.18px;font-size:6.4px;color:#fff;font-weight:700;transform:scaleX(0.9671);">GET IT ON</span>
<span class="t" style="left:888.64px;top:683.42px;font-size:13.8px;color:#fff;transform:scaleX(0.8769);-webkit-text-stroke:.4px #fff;">Google Play</span>
<span class="t" style="left:795.51px;top:168.47px;font-size:12.2px;color:#1a7a5a;transform:scaleX(1.0639);-webkit-text-stroke:.2px #1a7a5a;">Unallocated</span>
<span class="t" style="left:795.51px;top:185.17px;font-size:12.2px;color:#1a7a5a;transform:scaleX(1.0201);-webkit-text-stroke:.2px #1a7a5a;">Confirmed Cases: 00</span>
<span class="t" style="left:368.62px;top:161.28px;font-size:14.2px;color:#0e7a4a;font-weight:700;transform:scaleX(0.9424);">GAUTENG</span>
<span class="t" style="left:330.61px;top:179.85px;font-size:12.1px;color:#0e7a4a;font-weight:700;transform:scaleX(0.9469);">Confirmed Cases: 912 004</span>
<span class="t" style="left:361.01px;top:195.75px;font-size:12.1px;color:#0e7a4a;font-weight:700;transform:scaleX(0.9689);">Deaths: 19 068</span>
<span class="t" style="left:347.11px;top:211.75px;font-size:12.1px;color:#0e7a4a;font-weight:700;transform:scaleX(0.9466);">Recoveries: 889 137</span>
<span class="t" style="left:368.41px;top:227.95px;font-size:12.1px;color:#0e7a4a;font-weight:700;transform:scaleX(0.9306);">Active cases:  3 799</span>
<span class="t" style="left:652.92px;top:172.88px;font-size:14.2px;color:#0e7a4a;font-weight:700;transform:scaleX(0.9849);">LIMPOPO</span>
<span class="t" style="left:614.11px;top:190.85px;font-size:12.1px;color:#0e7a4a;font-weight:700;transform:scaleX(0.9456);">Confirmed Cases: 121 305</span>
<span class="t" style="left:646.01px;top:207.15px;font-size:12.1px;color:#0e7a4a;font-weight:700;transform:scaleX(0.9623);">Deaths:  3 891</span>
<span class="t" style="left:636.11px;top:223.05px;font-size:12.1px;color:#0e7a4a;font-weight:700;transform:scaleX(0.9573);">Recoveries: 115 643</span>
<span class="t" style="left:633.41px;top:238.85px;font-size:12.1px;color:#0e7a4a;font-weight:700;transform:scaleX(0.9344);">Active cases: 1 771</span>
<span class="t" style="left:429.32px;top:265.38px;font-size:14.2px;color:#0e7a4a;font-weight:700;transform:scaleX(0.9379);">NORTH WEST</span>
<span class="t" style="left:402.91px;top:283.85px;font-size:12.1px;color:#0e7a4a;font-weight:700;transform:scaleX(0.9469);">Confirmed Cases: 147 249</span>
<span class="t" style="left:436.41px;top:299.85px;font-size:12.1px;color:#0e7a4a;font-weight:700;transform:scaleX(0.9653);">Deaths: 3 972</span>
<span class="t" style="left:419.51px;top:315.75px;font-size:12.1px;color:#0e7a4a;font-weight:700;transform:scaleX(0.9466);">Recoveries: 137 362</span>
<span class="t" style="left:422.21px;top:331.55px;font-size:12.1px;color:#0e7a4a;font-weight:700;transform:scaleX(0.9344);">Active cases: 5 915</span>
<span class="t" style="left:644.52px;top:278.48px;font-size:14.2px;color:#0e7a4a;font-weight:700;transform:scaleX(0.9944);">MPUMALANGA</span>
<span class="t" style="left:624.91px;top:296.45px;font-size:12.1px;color:#0e7a4a;font-weight:700;transform:scaleX(0.9469);">Confirmed Cases: 148 858</span>
<span class="t" style="left:657.11px;top:312.65px;font-size:12.1px;color:#0e7a4a;font-weight:700;transform:scaleX(0.9623);">Deaths:  1 920</span>
<span class="t" style="left:647.31px;top:328.45px;font-size:12.1px;color:#0e7a4a;font-weight:700;transform:scaleX(0.9518);">Recoveries: 144 886</span>
<span class="t" style="left:644.61px;top:344.65px;font-size:12.1px;color:#0e7a4a;font-weight:700;transform:scaleX(0.9308);">Active cases: 2 052</span>
<span class="t" style="left:254.82px;top:353.58px;font-size:14.2px;color:#0e7a4a;font-weight:700;transform:scaleX(0.9158);">NORTHERN CAPE</span>
<span class="t" style="left:243.51px;top:371.95px;font-size:12.1px;color:#0e7a4a;font-weight:700;transform:scaleX(0.9439);">Confirmed Cases: 86 947</span>
<span class="t" style="left:273.51px;top:387.75px;font-size:12.1px;color:#0e7a4a;font-weight:700;transform:scaleX(0.9692);">Deaths: 2 076</span>
<span class="t" style="left:259.81px;top:403.95px;font-size:12.1px;color:#0e7a4a;font-weight:700;transform:scaleX(0.9445);">Recoveries: 78 140</span>
<span class="t" style="left:264.11px;top:419.85px;font-size:12.1px;color:#0e7a4a;font-weight:700;transform:scaleX(0.9317);">Active cases: 6 731</span>
<span class="t" style="left:464.02px;top:369.28px;font-size:14.2px;color:#0e7a4a;font-weight:700;transform:scaleX(0.8557);">FREE STATE</span>
<span class="t" style="left:429.61px;top:387.95px;font-size:12.1px;color:#0e7a4a;font-weight:700;transform:scaleX(0.9489);">Confirmed Cases: 156 526</span>
<span class="t" style="left:463.41px;top:403.75px;font-size:12.1px;color:#0e7a4a;font-weight:700;transform:scaleX(0.9628);">Deaths: 6 527</span>
<span class="t" style="left:444.81px;top:419.65px;font-size:12.1px;color:#0e7a4a;font-weight:700;transform:scaleX(0.9459);">Recoveries:  133 319</span>
<span class="t" style="left:445.91px;top:435.65px;font-size:12.1px;color:#0e7a4a;font-weight:700;transform:scaleX(0.9397);">Active cases: 16 680</span>
<span class="t" style="left:645.52px;top:401.28px;font-size:14.2px;color:#0e7a4a;font-weight:700;transform:scaleX(0.9369);">KWAZULU-NATAL</span>
<span class="t" style="left:631.41px;top:419.25px;font-size:12.1px;color:#0e7a4a;font-weight:700;transform:scaleX(0.9442);">Confirmed Cases: 502 027</span>
<span class="t" style="left:661.41px;top:435.85px;font-size:12.1px;color:#0e7a4a;font-weight:700;transform:scaleX(0.9653);">Deaths: 14 033</span>
<span class="t" style="left:647.21px;top:451.85px;font-size:12.1px;color:#0e7a4a;font-weight:700;transform:scaleX(0.9527);">Recoveries: 440 436</span>
<span class="t" style="left:647.21px;top:467.65px;font-size:12.1px;color:#0e7a4a;font-weight:700;transform:scaleX(0.9363);">Active cases: 47 558</span>
<span class="t" style="left:475.22px;top:489.98px;font-size:14.2px;color:#0e7a4a;font-weight:700;transform:scaleX(0.8893);">EASTERN CAPE</span>
<span class="t" style="left:453.31px;top:508.35px;font-size:12.1px;color:#0e7a4a;font-weight:700;transform:scaleX(0.9469);">Confirmed Cases: 284 086</span>
<span class="t" style="left:483.41px;top:524.15px;font-size:12.1px;color:#0e7a4a;font-weight:700;transform:scaleX(0.9689);">Deaths: 14 364</span>
<span class="t" style="left:469.91px;top:540.35px;font-size:12.1px;color:#0e7a4a;font-weight:700;transform:scaleX(0.9466);">Recoveries: 259 902</span>
<span class="t" style="left:473.01px;top:556.35px;font-size:12.1px;color:#0e7a4a;font-weight:700;transform:scaleX(0.9308);">Active cases: 9 820</span>
<span class="t" style="left:225.52px;top:515.18px;font-size:14.2px;color:#0e7a4a;font-weight:700;transform:scaleX(0.8964);">WESTERN CAPE</span>
<span class="t" style="left:205.31px;top:533.95px;font-size:12.1px;color:#0e7a4a;font-weight:700;transform:scaleX(0.9442);">Confirmed Cases: 501 833</span>
<span class="t" style="left:237.31px;top:550.25px;font-size:12.1px;color:#0e7a4a;font-weight:700;transform:scaleX(0.9726);">Deaths 19 151</span>
<span class="t" style="left:221.91px;top:566.05px;font-size:12.1px;color:#0e7a4a;font-weight:700;transform:scaleX(0.9457);">Recoveries: 472 497</span>
<span class="t" style="left:221.51px;top:581.95px;font-size:12.1px;color:#0e7a4a;font-weight:700;transform:scaleX(0.9389);">Active cases: 10 185</span>
<span class="t" style="left:982.4px;top:83.99px;font-size:12.5px;color:#fff;font-weight:700;transform:scaleX(0.9650);">Frances Baard District</span>
<span class="t" style="left:1185.75px;top:83.99px;font-size:12.5px;color:#fff;font-weight:700;">38</span>
<span class="t" style="left:1248.92px;top:83.99px;font-size:12.5px;color:#fff;font-weight:700;">26061</span>
<span class="t" style="left:1331.92px;top:83.99px;font-size:12.5px;color:#fff;font-weight:700;">22770</span>
<span class="t" style="left:1422.87px;top:83.99px;font-size:12.5px;color:#fff;font-weight:700;">5</span>
<span class="t" style="left:1488.94px;top:83.99px;font-size:12.5px;color:#fff;font-weight:700;">1034</span>
<span class="t" style="left:1673.94px;top:83.99px;font-size:12.5px;color:#fff;font-weight:700;">2257</span>
<span class="t" style="left:982.4px;top:103.75px;font-size:12.5px;color:#000;transform:scaleX(1.0200);">Dikgatlong LM</span>
<span class="t" style="left:1189.22px;top:103.75px;font-size:12.5px;color:#000;">3</span>
<span class="t" style="left:1252.39px;top:103.75px;font-size:12.5px;color:#000;">1213</span>
<span class="t" style="left:1335.39px;top:103.75px;font-size:12.5px;color:#000;">1055</span>
<span class="t" style="left:1495.9px;top:103.75px;font-size:12.5px;color:#000;">86</span>
<span class="t" style="left:1680.9px;top:103.75px;font-size:12.5px;color:#000;">72</span>
<span class="t" style="left:982.4px;top:123.5px;font-size:12.5px;color:#000;transform:scaleX(1.0200);">Magareng LM</span>
<span class="t" style="left:1189.22px;top:123.5px;font-size:12.5px;color:#000;">6</span>
<span class="t" style="left:1252.39px;top:123.5px;font-size:12.5px;color:#000;">1615</span>
<span class="t" style="left:1335.39px;top:123.5px;font-size:12.5px;color:#000;">1502</span>
<span class="t" style="left:1495.9px;top:123.5px;font-size:12.5px;color:#000;">60</span>
<span class="t" style="left:1680.9px;top:123.5px;font-size:12.5px;color:#000;">53</span>
<span class="t" style="left:982.4px;top:143.26px;font-size:12.5px;color:#000;transform:scaleX(1.0200);">Phokwane LM</span>
<span class="t" style="left:1189.22px;top:143.26px;font-size:12.5px;color:#000;">8</span>
<span class="t" style="left:1252.39px;top:143.26px;font-size:12.5px;color:#000;">3763</span>
<span class="t" style="left:1335.39px;top:143.26px;font-size:12.5px;color:#000;">3178</span>
<span class="t" style="left:1492.42px;top:143.26px;font-size:12.5px;color:#000;">195</span>
<span class="t" style="left:1677.42px;top:143.26px;font-size:12.5px;color:#000;">390</span>
<span class="t" style="left:982.4px;top:163.01px;font-size:12.5px;color:#000;transform:scaleX(1.0200);">Sol Plaatje LM</span>
<span class="t" style="left:1185.75px;top:163.01px;font-size:12.5px;color:#000;">21</span>
<span class="t" style="left:1248.92px;top:163.01px;font-size:12.5px;color:#000;">19470</span>
<span class="t" style="left:1331.92px;top:163.01px;font-size:12.5px;color:#000;">17035</span>
<span class="t" style="left:1422.87px;top:163.01px;font-size:12.5px;color:#000;">5</span>
<span class="t" style="left:1492.42px;top:163.01px;font-size:12.5px;color:#000;">693</span>
<span class="t" style="left:1673.94px;top:163.01px;font-size:12.5px;color:#000;">1742</span>
<span class="t" style="left:982.4px;top:182.77px;font-size:12.5px;color:#fff;font-weight:700;transform:scaleX(0.9650);">John Taolo Gaetsewe District</span>
<span class="t" style="left:1185.75px;top:182.77px;font-size:12.5px;color:#fff;font-weight:700;">35</span>
<span class="t" style="left:1249.26px;top:182.77px;font-size:12.5px;color:#fff;font-weight:700;">11273</span>
<span class="t" style="left:1335.39px;top:182.77px;font-size:12.5px;color:#fff;font-weight:700;">9514</span>
<span class="t" style="left:1422.87px;top:182.77px;font-size:12.5px;color:#fff;font-weight:700;">2</span>
<span class="t" style="left:1492.42px;top:182.77px;font-size:12.5px;color:#fff;font-weight:700;">233</span>
<span class="t" style="left:1593.02px;top:182.77px;font-size:12.5px;color:#fff;font-weight:700;">1</span>
<span class="t" style="left:1673.94px;top:182.77px;font-size:12.5px;color:#fff;font-weight:700;">1525</span>
<span class="t" style="left:982.4px;top:202.52px;font-size:12.5px;color:#000;transform:scaleX(1.0200);">Gamagara LM</span>
<span class="t" style="left:1185.75px;top:202.52px;font-size:12.5px;color:#000;">13</span>
<span class="t" style="left:1252.39px;top:202.52px;font-size:12.5px;color:#000;">3435</span>
<span class="t" style="left:1335.39px;top:202.52px;font-size:12.5px;color:#000;">2797</span>
<span class="t" style="left:1495.9px;top:202.52px;font-size:12.5px;color:#000;">41</span>
<span class="t" style="left:1677.42px;top:202.52px;font-size:12.5px;color:#000;">597</span>
<span class="t" style="left:982.4px;top:222.28px;font-size:12.5px;color:#000;transform:scaleX(1.0200);">Gasegonyana LM</span>
<span class="t" style="left:1185.75px;top:222.28px;font-size:12.5px;color:#000;">10</span>
<span class="t" style="left:1252.39px;top:222.28px;font-size:12.5px;color:#000;">6149</span>
<span class="t" style="left:1335.39px;top:222.28px;font-size:12.5px;color:#000;">5305</span>
<span class="t" style="left:1422.87px;top:222.28px;font-size:12.5px;color:#000;">2</span>
<span class="t" style="left:1492.42px;top:222.28px;font-size:12.5px;color:#000;">164</span>
<span class="t" style="left:1677.42px;top:222.28px;font-size:12.5px;color:#000;">680</span>
<span class="t" style="left:982.4px;top:242.03px;font-size:12.5px;color:#000;transform:scaleX(1.0200);">Joe Morolong LM</span>
<span class="t" style="left:1185.75px;top:242.03px;font-size:12.5px;color:#000;">12</span>
<span class="t" style="left:1252.39px;top:242.03px;font-size:12.5px;color:#000;">1689</span>
<span class="t" style="left:1335.39px;top:242.03px;font-size:12.5px;color:#000;">1412</span>
<span class="t" style="left:1495.9px;top:242.03px;font-size:12.5px;color:#000;">28</span>
<span class="t" style="left:1593.02px;top:242.03px;font-size:12.5px;color:#000;">1</span>
<span class="t" style="left:1677.42px;top:242.03px;font-size:12.5px;color:#000;">248</span>
<span class="t" style="left:982.4px;top:261.79px;font-size:12.5px;color:#fff;font-weight:700;transform:scaleX(0.9650);">Namakwa District</span>
<span class="t" style="left:1185.75px;top:261.79px;font-size:12.5px;color:#fff;font-weight:700;">38</span>
<span class="t" style="left:1248.92px;top:261.79px;font-size:12.5px;color:#fff;font-weight:700;">12806</span>
<span class="t" style="left:1332.26px;top:261.79px;font-size:12.5px;color:#fff;font-weight:700;">11247</span>
<span class="t" style="left:1422.87px;top:261.79px;font-size:12.5px;color:#fff;font-weight:700;">1</span>
<span class="t" style="left:1492.42px;top:261.79px;font-size:12.5px;color:#fff;font-weight:700;">124</span>
<span class="t" style="left:1673.94px;top:261.79px;font-size:12.5px;color:#fff;font-weight:700;">1435</span>
<span class="t" style="left:982.4px;top:281.54px;font-size:12.5px;color:#000;transform:scaleX(1.0200);">Hantam LM</span>
<span class="t" style="left:1189.22px;top:281.54px;font-size:12.5px;color:#000;">1</span>
<span class="t" style="left:1252.39px;top:281.54px;font-size:12.5px;color:#000;">2420</span>
<span class="t" style="left:1335.39px;top:281.54px;font-size:12.5px;color:#000;">2200</span>
<span class="t" style="left:1495.9px;top:281.54px;font-size:12.5px;color:#000;">29</span>
<span class="t" style="left:1677.42px;top:281.54px;font-size:12.5px;color:#000;">191</span>
<span class="t" style="left:982.4px;top:301.3px;font-size:12.5px;color:#000;transform:scaleX(1.0200);">Kamiesberg LM</span>
<span class="t" style="left:1189.22px;top:301.3px;font-size:12.5px;color:#000;">7</span>
<span class="t" style="left:1252.85px;top:301.3px;font-size:12.5px;color:#000;">1131</span>
<span class="t" style="left:1338.87px;top:301.3px;font-size:12.5px;color:#000;">975</span>
<span class="t" style="left:1499.37px;top:301.3px;font-size:12.5px;color:#000;">5</span>
<span class="t" style="left:1677.42px;top:301.3px;font-size:12.5px;color:#000;">151</span>
<span class="t" style="left:982.4px;top:321.05px;font-size:12.5px;color:#000;transform:scaleX(1.0200);">Karoo Hoogland LM</span>
<span class="t" style="left:1189.22px;top:321.05px;font-size:12.5px;color:#000;">1</span>
<span class="t" style="left:1255.87px;top:321.05px;font-size:12.5px;color:#000;">292</span>
<span class="t" style="left:1338.87px;top:321.05px;font-size:12.5px;color:#000;">231</span>
<span class="t" style="left:1499.37px;top:321.05px;font-size:12.5px;color:#000;">2</span>
<span class="t" style="left:1680.9px;top:321.05px;font-size:12.5px;color:#000;">59</span>
<span class="t" style="left:982.4px;top:340.81px;font-size:12.5px;color:#000;transform:scaleX(1.0200);">Khâi-Ma LM</span>
<span class="t" style="left:1189.22px;top:340.81px;font-size:12.5px;color:#000;">4</span>
<span class="t" style="left:1252.39px;top:340.81px;font-size:12.5px;color:#000;">1213</span>
<span class="t" style="left:1335.39px;top:340.81px;font-size:12.5px;color:#000;">1083</span>
<span class="t" style="left:1499.37px;top:340.81px;font-size:12.5px;color:#000;">4</span>
<span class="t" style="left:1677.42px;top:340.81px;font-size:12.5px;color:#000;">126</span>
<span class="t" style="left:982.4px;top:360.56px;font-size:12.5px;color:#000;transform:scaleX(1.0200);">Nama Khoi LM</span>
<span class="t" style="left:1185.75px;top:360.56px;font-size:12.5px;color:#000;">19</span>
<span class="t" style="left:1252.39px;top:360.56px;font-size:12.5px;color:#000;">6610</span>
<span class="t" style="left:1335.39px;top:360.56px;font-size:12.5px;color:#000;">5730</span>
<span class="t" style="left:1422.87px;top:360.56px;font-size:12.5px;color:#000;">1</span>
<span class="t" style="left:1495.9px;top:360.56px;font-size:12.5px;color:#000;">81</span>
<span class="t" style="left:1677.42px;top:360.56px;font-size:12.5px;color:#000;">799</span>
<span class="t" style="left:982.4px;top:380.32px;font-size:12.5px;color:#000;transform:scaleX(1.0200);">Richtersveld LM</span>
<span class="t" style="left:1189.22px;top:380.32px;font-size:12.5px;color:#000;">6</span>
<span class="t" style="left:1252.85px;top:380.32px;font-size:12.5px;color:#000;">1140</span>
<span class="t" style="left:1335.39px;top:380.32px;font-size:12.5px;color:#000;">1028</span>
<span class="t" style="left:1499.37px;top:380.32px;font-size:12.5px;color:#000;">3</span>
<span class="t" style="left:1677.42px;top:380.32px;font-size:12.5px;color:#000;">109</span>
<span class="t" style="left:982.4px;top:400.07px;font-size:12.5px;color:#fff;font-weight:700;transform:scaleX(0.9650);">Pixley ka Seme District</span>
<span class="t" style="left:1185.75px;top:400.07px;font-size:12.5px;color:#fff;font-weight:700;">47</span>
<span class="t" style="left:1248.92px;top:400.07px;font-size:12.5px;color:#fff;font-weight:700;">16445</span>
<span class="t" style="left:1331.92px;top:400.07px;font-size:12.5px;color:#fff;font-weight:700;">15261</span>
<span class="t" style="left:1422.87px;top:400.07px;font-size:12.5px;color:#fff;font-weight:700;">1</span>
<span class="t" style="left:1492.42px;top:400.07px;font-size:12.5px;color:#fff;font-weight:700;">179</span>
<span class="t" style="left:1593.02px;top:400.07px;font-size:12.5px;color:#fff;font-weight:700;">1</span>
<span class="t" style="left:1673.94px;top:400.07px;font-size:12.5px;color:#fff;font-weight:700;">1004</span>
<span class="t" style="left:982.4px;top:419.83px;font-size:12.5px;color:#000;transform:scaleX(1.0200);">Emthanjeni LM</span>
<span class="t" style="left:1185.75px;top:419.83px;font-size:12.5px;color:#000;">13</span>
<span class="t" style="left:1252.39px;top:419.83px;font-size:12.5px;color:#000;">3546</span>
<span class="t" style="left:1335.39px;top:419.83px;font-size:12.5px;color:#000;">3344</span>
<span class="t" style="left:1495.9px;top:419.83px;font-size:12.5px;color:#000;">43</span>
<span class="t" style="left:1677.42px;top:419.83px;font-size:12.5px;color:#000;">159</span>
<span class="t" style="left:982.4px;top:439.58px;font-size:12.5px;color:#000;transform:scaleX(1.0200);">Kareeberg LM</span>
<span class="t" style="left:1189.22px;top:439.58px;font-size:12.5px;color:#000;">0</span>
<span class="t" style="left:1252.39px;top:439.58px;font-size:12.5px;color:#000;">1073</span>
<span class="t" style="left:1335.39px;top:439.58px;font-size:12.5px;color:#000;">1012</span>
<span class="t" style="left:1499.37px;top:439.58px;font-size:12.5px;color:#000;">3</span>
<span class="t" style="left:1680.9px;top:439.58px;font-size:12.5px;color:#000;">58</span>
<span class="t" style="left:982.4px;top:459.34px;font-size:12.5px;color:#000;transform:scaleX(1.0200);">Renosterberg LM</span>
<span class="t" style="left:1189.22px;top:459.34px;font-size:12.5px;color:#000;">9</span>
<span class="t" style="left:1252.85px;top:459.34px;font-size:12.5px;color:#000;">1109</span>
<span class="t" style="left:1335.39px;top:459.34px;font-size:12.5px;color:#000;">1045</span>
<span class="t" style="left:1499.37px;top:459.34px;font-size:12.5px;color:#000;">6</span>
<span class="t" style="left:1680.9px;top:459.34px;font-size:12.5px;color:#000;">58</span>
<span class="t" style="left:982.4px;top:479.09px;font-size:12.5px;color:#000;transform:scaleX(1.0200);">Siyancuma LM</span>
<span class="t" style="left:1185.75px;top:479.09px;font-size:12.5px;color:#000;">10</span>
<span class="t" style="left:1252.39px;top:479.09px;font-size:12.5px;color:#000;">2768</span>
<span class="t" style="left:1335.39px;top:479.09px;font-size:12.5px;color:#000;">2542</span>
<span class="t" style="left:1495.9px;top:479.09px;font-size:12.5px;color:#000;">55</span>
<span class="t" style="left:1677.42px;top:479.09px;font-size:12.5px;color:#000;">171</span>
<span class="t" style="left:982.4px;top:498.85px;font-size:12.5px;color:#000;transform:scaleX(1.0200);">Siyathemba LM</span>
<span class="t" style="left:1185.75px;top:498.85px;font-size:12.5px;color:#000;">10</span>
<span class="t" style="left:1252.39px;top:498.85px;font-size:12.5px;color:#000;">2183</span>
<span class="t" style="left:1335.39px;top:498.85px;font-size:12.5px;color:#000;">2035</span>
<span class="t" style="left:1495.9px;top:498.85px;font-size:12.5px;color:#000;">29</span>
<span class="t" style="left:1677.88px;top:498.85px;font-size:12.5px;color:#000;">119</span>
<span class="t" style="left:982.4px;top:518.6px;font-size:12.5px;color:#000;transform:scaleX(1.0200);">Thembelihle LM</span>
<span class="t" style="left:1189.22px;top:518.6px;font-size:12.5px;color:#000;">2</span>
<span class="t" style="left:1252.39px;top:518.6px;font-size:12.5px;color:#000;">1399</span>
<span class="t" style="left:1335.39px;top:518.6px;font-size:12.5px;color:#000;">1355</span>
<span class="t" style="left:1495.9px;top:518.6px;font-size:12.5px;color:#000;">21</span>
<span class="t" style="left:1680.9px;top:518.6px;font-size:12.5px;color:#000;">23</span>
<span class="t" style="left:982.4px;top:538.36px;font-size:12.5px;color:#000;transform:scaleX(1.0200);">Ubuntu LM</span>
<span class="t" style="left:1189.22px;top:538.36px;font-size:12.5px;color:#000;">0</span>
<span class="t" style="left:1252.39px;top:538.36px;font-size:12.5px;color:#000;">1554</span>
<span class="t" style="left:1335.39px;top:538.36px;font-size:12.5px;color:#000;">1384</span>
<span class="t" style="left:1499.37px;top:538.36px;font-size:12.5px;color:#000;">7</span>
<span class="t" style="left:1677.42px;top:538.36px;font-size:12.5px;color:#000;">163</span>
<span class="t" style="left:982.4px;top:558.11px;font-size:12.5px;color:#000;transform:scaleX(1.0200);">Umsobomvu LM</span>
<span class="t" style="left:1189.22px;top:558.11px;font-size:12.5px;color:#000;">3</span>
<span class="t" style="left:1252.39px;top:558.11px;font-size:12.5px;color:#000;">2813</span>
<span class="t" style="left:1335.39px;top:558.11px;font-size:12.5px;color:#000;">2544</span>
<span class="t" style="left:1422.87px;top:558.11px;font-size:12.5px;color:#000;">1</span>
<span class="t" style="left:1495.9px;top:558.11px;font-size:12.5px;color:#000;">15</span>
<span class="t" style="left:1593.02px;top:558.11px;font-size:12.5px;color:#000;">1</span>
<span class="t" style="left:1677.42px;top:558.11px;font-size:12.5px;color:#000;">253</span>
<span class="t" style="left:982.4px;top:577.87px;font-size:12.5px;color:#fff;font-weight:700;transform:scaleX(0.9650);">ZF Mgcawu District</span>
<span class="t" style="left:1185.75px;top:577.87px;font-size:12.5px;color:#fff;font-weight:700;">71</span>
<span class="t" style="left:1248.92px;top:577.87px;font-size:12.5px;color:#fff;font-weight:700;">20349</span>
<span class="t" style="left:1331.92px;top:577.87px;font-size:12.5px;color:#fff;font-weight:700;">19348</span>
<span class="t" style="left:1422.87px;top:577.87px;font-size:12.5px;color:#fff;font-weight:700;">4</span>
<span class="t" style="left:1492.42px;top:577.87px;font-size:12.5px;color:#fff;font-weight:700;">427</span>
<span class="t" style="left:1677.42px;top:577.87px;font-size:12.5px;color:#fff;font-weight:700;">574</span>
<span class="t" style="left:982.4px;top:597.62px;font-size:12.5px;color:#000;transform:scaleX(1.0200);">!Kheis LM</span>
<span class="t" style="left:1189.22px;top:597.62px;font-size:12.5px;color:#000;">4</span>
<span class="t" style="left:1255.87px;top:597.62px;font-size:12.5px;color:#000;">893</span>
<span class="t" style="left:1338.87px;top:597.62px;font-size:12.5px;color:#000;">830</span>
<span class="t" style="left:1495.9px;top:597.62px;font-size:12.5px;color:#000;">12</span>
<span class="t" style="left:1680.9px;top:597.62px;font-size:12.5px;color:#000;">51</span>
<span class="t" style="left:982.4px;top:617.38px;font-size:12.5px;color:#000;transform:scaleX(1.0200);">Dawid Kruiper LM</span>
<span class="t" style="left:1185.75px;top:617.38px;font-size:12.5px;color:#000;">31</span>
<span class="t" style="left:1249.38px;top:617.38px;font-size:12.5px;color:#000;">11853</span>
<span class="t" style="left:1332.38px;top:617.38px;font-size:12.5px;color:#000;">11325</span>
<span class="t" style="left:1422.87px;top:617.38px;font-size:12.5px;color:#000;">4</span>
<span class="t" style="left:1492.42px;top:617.38px;font-size:12.5px;color:#000;">227</span>
<span class="t" style="left:1677.42px;top:617.38px;font-size:12.5px;color:#000;">301</span>
<span class="t" style="left:982.4px;top:637.13px;font-size:12.5px;color:#000;transform:scaleX(1.0200);">Kai !Garib LM</span>
<span class="t" style="left:1185.75px;top:637.13px;font-size:12.5px;color:#000;">20</span>
<span class="t" style="left:1252.39px;top:637.13px;font-size:12.5px;color:#000;">3687</span>
<span class="t" style="left:1335.39px;top:637.13px;font-size:12.5px;color:#000;">3481</span>
<span class="t" style="left:1495.9px;top:637.13px;font-size:12.5px;color:#000;">85</span>
<span class="t" style="left:1677.42px;top:637.13px;font-size:12.5px;color:#000;">121</span>
<span class="t" style="left:982.4px;top:656.89px;font-size:12.5px;color:#000;transform:scaleX(1.0200);">Kgatelopele LM</span>
<span class="t" style="left:1189.22px;top:656.89px;font-size:12.5px;color:#000;">4</span>
<span class="t" style="left:1252.39px;top:656.89px;font-size:12.5px;color:#000;">1064</span>
<span class="t" style="left:1335.39px;top:656.89px;font-size:12.5px;color:#000;">1022</span>
<span class="t" style="left:1495.9px;top:656.89px;font-size:12.5px;color:#000;">27</span>
<span class="t" style="left:1680.9px;top:656.89px;font-size:12.5px;color:#000;">15</span>
<span class="t" style="left:982.4px;top:676.64px;font-size:12.5px;color:#000;transform:scaleX(1.0200);">Tsantsabane LM</span>
<span class="t" style="left:1185.75px;top:676.64px;font-size:12.5px;color:#000;">12</span>
<span class="t" style="left:1252.39px;top:676.64px;font-size:12.5px;color:#000;">2852</span>
<span class="t" style="left:1335.39px;top:676.64px;font-size:12.5px;color:#000;">2690</span>
<span class="t" style="left:1495.9px;top:676.64px;font-size:12.5px;color:#000;">76</span>
<span class="t" style="left:1680.9px;top:676.64px;font-size:12.5px;color:#000;">86</span>
<span class="t" style="left:982.4px;top:695.57px;font-size:12.5px;color:#000;transform:scaleX(1.0200);">Unallocated</span>
<span class="t" style="left:1259.35px;top:695.57px;font-size:12.5px;color:#000;font-weight:700;">13</span>
<span class="t" style="left:1495.9px;top:695.57px;font-size:12.5px;color:#000;font-weight:700;">79</span>
<span class="t" style="left:982.4px;top:714.62px;font-size:12.5px;color:#000;font-weight:700;transform:scaleX(0.9350);">PROVINCIAL TOTALS</span>
<span class="t" style="left:1182.27px;top:714.62px;font-size:12.5px;color:#000;font-weight:700;">229</span>
<span class="t" style="left:1248.92px;top:714.62px;font-size:12.5px;color:#000;font-weight:700;">86947</span>
<span class="t" style="left:1331.92px;top:714.62px;font-size:12.5px;color:#000;font-weight:700;">78140</span>
<span class="t" style="left:1419.4px;top:714.62px;font-size:12.5px;color:#000;font-weight:700;">13</span>
<span class="t" style="left:1488.94px;top:714.62px;font-size:12.5px;color:#000;font-weight:700;">2076</span>
<span class="t" style="left:1593.02px;top:714.62px;font-size:12.5px;color:#000;font-weight:700;">2</span>
<span class="t" style="left:1673.94px;top:714.62px;font-size:12.5px;color:#000;font-weight:700;">6729</span>
<span class="t" style="left:1359.62px;top:13.43px;font-size:12.6px;color:#fff;font-weight:700;">Monday, 13 September 2021</span>
<span class="t" style="left:1187.26px;top:27.63px;font-size:12.6px;color:#fff;font-weight:700;transform:scaleX(0.9700);">Total Screened</span>
<span class="t" style="left:1353.23px;top:27.63px;font-size:12.6px;color:#f7f020;font-weight:700;">7 214 718</span>
<span class="t" style="left:1516.88px;top:27.63px;font-size:12.6px;color:#fff;font-weight:700;transform:scaleX(0.9700);">Total Tested</span>
<span class="t" style="left:1665.08px;top:27.63px;font-size:12.6px;color:#f7f020;font-weight:700;">464 955</span>
<span class="t" style="left:1180.14px;top:46.33px;font-size:12.6px;color:#fff;font-weight:700;transform:scaleX(0.9700);">New</span>
<span class="t" style="left:1169.28px;top:64.63px;font-size:12.6px;color:#fff;font-weight:700;transform:scaleX(0.9700);">Positive</span>
<span class="t" style="left:1252.16px;top:46.33px;font-size:12.6px;color:#fff;font-weight:700;transform:scaleX(0.9700);">Total</span>
<span class="t" style="left:1242.88px;top:64.63px;font-size:12.6px;color:#fff;font-weight:700;transform:scaleX(0.9700);">Positive</span>
<span class="t" style="left:1335.16px;top:46.33px;font-size:12.6px;color:#fff;font-weight:700;transform:scaleX(0.9700);">Total</span>
<span class="t" style="left:1318.06px;top:64.63px;font-size:12.6px;color:#fff;font-weight:700;transform:scaleX(0.9700);">Recovered</span>
<span class="t" style="left:1413.79px;top:46.33px;font-size:12.6px;color:#fff;font-weight:700;transform:scaleX(0.9700);">New</span>
<span class="t" style="left:1405.98px;top:64.63px;font-size:12.6px;color:#fff;font-weight:700;transform:scaleX(0.9700);">Deaths</span>
<span class="t" style="left:1488.71px;top:46.33px;font-size:12.6px;color:#fff;font-weight:700;transform:scaleX(0.9700);">Total</span>
<span class="t" style="left:1474.33px;top:64.63px;font-size:12.6px;color:#fff;font-weight:700;transform:scaleX(0.9700);">Deceased</span>
<span class="t" style="left:1562.89px;top:46.33px;font-size:12.6px;color:#fff;font-weight:700;transform:scaleX(0.9700);">Transferred</span>
<span class="t" style="left:1587px;top:64.63px;font-size:12.6px;color:#fff;font-weight:700;transform:scaleX(0.9700);">out</span>
<span class="t" style="left:1673.71px;top:46.33px;font-size:12.6px;color:#fff;font-weight:700;transform:scaleX(0.9700);">Total</span>
<span class="t" style="left:1669.51px;top:64.63px;font-size:12.6px;color:#fff;font-weight:700;transform:scaleX(0.9700);">Active</span>
<span class="t" style="left:1042.3px;top:19.1px;font-size:9.8px;color:#2e7d4f;transform:scaleX(0.9898);">Province of the</span>
<span class="t" style="left:1042.05px;top:31.35px;font-size:16px;color:#1d6b3f;font-weight:700;transform:scaleX(0.9592);">Northern Cape</span>
<span class="t" style="left:1042.36px;top:56.47px;font-size:8.3px;color:#2e7d4f;transform:scaleX(0.9144);">REPUBLIC OF SOUTH AFRICA</span>
</body></html>
